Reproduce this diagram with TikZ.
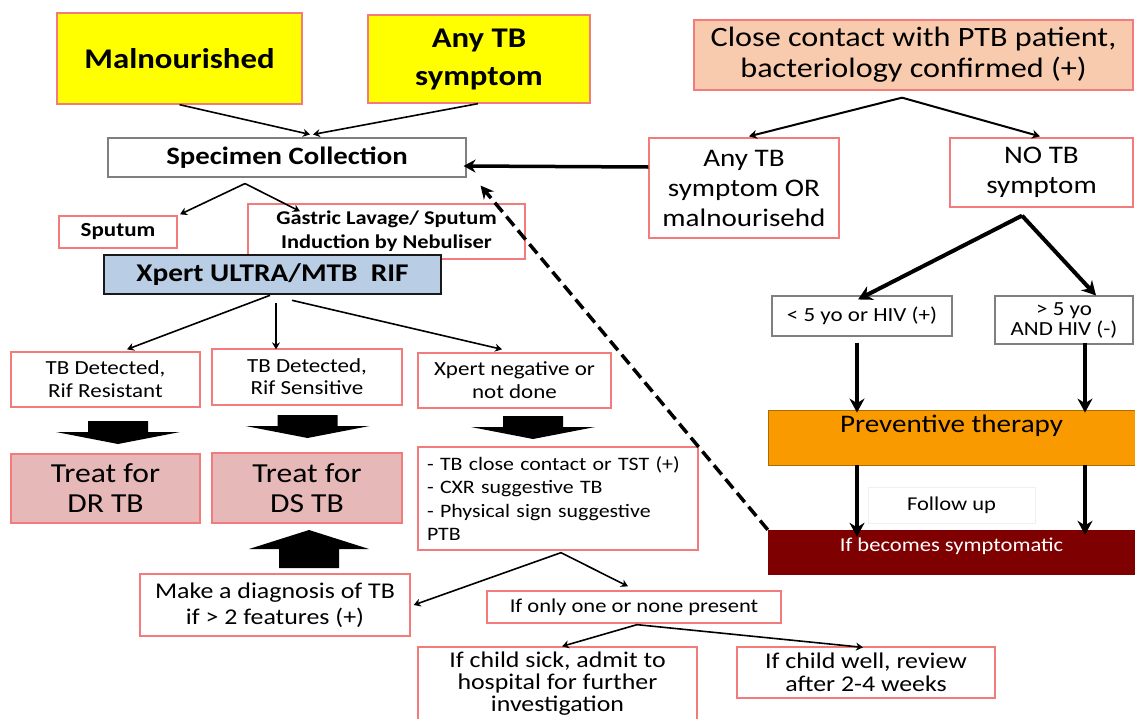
\documentclass[tikz,border=0pt]{standalone}
\usepackage{fontspec}
\setmainfont{Carlito}[FakeStretch=1.15]
\usetikzlibrary{arrows.meta,calc}
\definecolor{bred}{HTML}{F27C7C}
\definecolor{yel}{HTML}{FFFF00}
\definecolor{peach}{HTML}{F9CBAE}
\definecolor{xblue}{HTML}{B9CDE5}
\definecolor{pinkf}{HTML}{E6B8B7}
\definecolor{orangef}{HTML}{F99B00}
\definecolor{darkredf}{HTML}{7F0000}
\definecolor{graybd}{HTML}{7F7F7F}
\begin{document}
\begin{tikzpicture}[x=1pt,y=-1pt,
  box/.style={draw=bred,line width=1.3pt,inner sep=0pt,align=center,text=black},
  gbox/.style={draw=graybd,line width=1.1pt,inner sep=0pt,align=center,text=black},
  thin/.style={line width=1.6pt,-{Stealth[length=7pt,width=8pt]}},
  mid/.style={line width=2pt,-{Stealth[length=8pt,width=9pt]}},
  thick/.style={line width=3.5pt,-{Stealth[length=12pt,width=13pt]}},
  vthick/.style={line width=4.5pt,-{Stealth[length=14pt,width=15pt]}},
  blkdown/.pic={\fill[black] (-30,0) -- (30,0) -- (30,11) -- (62,11) -- (0,23) -- (-62,11) -- (-30,11) -- cycle;},
  blkup/.pic={\fill[black] (-30,0) -- (30,0) -- (30,-19) -- (60,-19) -- (0,-38) -- (-60,-19) -- (-30,-19) -- cycle;}
]
\useasboundingbox (0,0) rectangle (1135,718);
\fill[white] (0,0) rectangle (1135,718);

% top left
\node[box,fill=yel,minimum width=245,minimum height=91,font=\bfseries\fontsize{28.5}{38}\selectfont] (mal) at (179.5,58.5) {Malnourished};
\node[box,fill=yel,minimum width=222,minimum height=88,font=\bfseries\fontsize{28.5}{38}\selectfont] (anytb) at (479,59) {Any TB\\symptom};
\node[gbox,minimum width=358,minimum height=39,font=\bfseries\fontsize{25}{28}\selectfont] (spec) at (287,157.5) {Specimen Collection};
\node[box,minimum width=118,minimum height=32,font=\bfseries\fontsize{20}{24}\selectfont] (sput) at (118,232) {Sputum};
\node[box,minimum width=277,minimum height=55,font=\bfseries\fontsize{19.5}{24}\selectfont] (gast) at (386.5,231.5) {Gastric Lavage/ Sputum\\Induction by Nebuliser};
\node[draw=black!90,line width=2.6pt,fill=xblue,inner sep=0pt,minimum width=337,minimum height=39,font=\bfseries\fontsize{25.5}{28}\selectfont] (xpert) at (272.5,274.5) {Xpert ULTRA/MTB\ \ RIF};

% right side
\node[box,fill=peach,minimum width=439,minimum height=70,font=\fontsize{28}{31}\selectfont] (close) at (913.5,55) {Close contact with PTB patient,\\bacteriology confirmed (+)};
\node[box,minimum width=190,minimum height=100,font=\fontsize{25.3}{30}\selectfont] (anyor) at (744,188) {Any TB\\symptom OR\\malnourisehd};
\node[box,minimum width=183,minimum height=69,font=\fontsize{25.3}{30}\selectfont] (notb) at (1041.5,172.5) {NO TB\\symptom};
\node[gbox,minimum width=180,minimum height=40,font=\fontsize{20}{23}\selectfont] (lt5) at (862,316) {< 5 yo or HIV (+)};
\node[gbox,minimum width=138,minimum height=48,font=\fontsize{20}{20}\selectfont] (gt5) at (1064,320) {> 5 yo\\AND HIV (-)};
\node[draw=orangef!70!black,line width=0.8pt,fill=orangef,inner sep=0pt,minimum width=367,minimum height=55,
  label={[font=\fontsize{25.3}{28}\selectfont,yshift=12pt]center:Preventive therapy}] (prev) at (951.5,437.5) {};
\node[draw=black!6,line width=0.8pt,inner sep=0pt,minimum width=167,minimum height=36,font=\fontsize{19.6}{22}\selectfont] (follow) at (951.5,505) {Follow up};
\node[fill=darkredf,inner sep=0pt,minimum width=367,minimum height=45,
  label={[text=white,font=\fontsize{19.6}{22}\selectfont,yshift=6pt]center:If becomes symptomatic}] (symp) at (951.5,552.5) {};

% Xpert results
\node[box,minimum width=189,minimum height=55,font=\fontsize{20}{23}\selectfont] (rifres) at (105.5,379.5) {TB Detected,\\Rif Resistant};
\node[box,minimum width=190,minimum height=56,font=\fontsize{20}{22}\selectfont] (rifsen) at (307,377) {TB Detected,\\Rif Sensitive};
\node[box,minimum width=193,minimum height=55,font=\fontsize{20}{23}\selectfont] (xneg) at (514.5,380.5) {Xpert negative or\\not done};
\node[box,fill=pinkf,minimum width=189,minimum height=69,font=\fontsize{27.5}{30}\selectfont] (trdr) at (105.5,488.5) {Treat for\\DR TB};
\node[box,fill=pinkf,minimum width=190,minimum height=70,font=\fontsize{27.5}{30}\selectfont] (trds) at (307,488) {Treat for\\DS TB};
\node[box,minimum width=280,minimum height=103,text width=262pt,inner xsep=9pt,align=left,font=\fontsize{19}{23.3}\selectfont] (crit) at (558,498.5)
  {- TB close contact or TST (+)\\- CXR suggestive TB\\- Physical sign suggestive\\PTB};
\node[box,minimum width=270,minimum height=62,font=\fontsize{22.5}{26}\selectfont] (diag) at (275,605) {Make a diagnosis of TB\\if > 2 features (+)};
\node[box,minimum width=294,minimum height=32,font=\fontsize{19.6}{22}\selectfont] (only) at (634,607) {If only one or none present};
\node[box,minimum width=279,minimum height=74,font=\fontsize{22.5}{22}\selectfont] (sick) at (557.5,684) {If child sick, admit to\\hospital for further\\investigation};
\node[box,minimum width=258,minimum height=51,font=\fontsize{22.5}{23}\selectfont] (well) at (866,672.5) {If child well, review\\after 2-4 weeks};

% block arrows
\pic at (118,421) {blkdown};
\pic at (307.5,415) {blkdown};
\pic at (533,416) {blkdown};
\pic at (309,568) {blkup};

% connectors
\draw[thin] (mal.south) -- ([xshift=23pt,yshift=3pt]spec.north);
\draw[thin] ([xshift=-1pt]anytb.south) -- ([xshift=26pt,yshift=3pt]spec.north);
\draw[mid] ([xshift=-11.5pt,yshift=-7pt]close.south) -- ([xshift=5pt,yshift=1pt]anyor.north);
\draw[mid] ([xshift=-11.5pt,yshift=-7pt]close.south) -- ([xshift=-1.5pt,yshift=1pt]notb.north);
\draw[thick] ([yshift=21pt]anyor.west) -- ([xshift=-3pt,yshift=-8.5pt]spec.east);
\draw[line width=3.5pt,dash pattern=on 12pt off 6pt,-{Stealth[length=13pt,width=13pt]}] (symp.north west) -- ([xshift=14pt,yshift=-8pt]spec.south east);
\draw[vthick,line width=4pt] ([xshift=-19.5pt,yshift=-8pt]notb.south) -- ([xshift=-4pt,yshift=-4pt]lt5.north);
\draw[vthick,line width=4pt] ([xshift=-19.5pt,yshift=-8pt]notb.south) -- ([xshift=32pt,yshift=0pt]gt5.north);
\draw[vthick] ([xshift=-5pt,yshift=-6pt]lt5.south) -- ([xshift=-94.5pt,yshift=-3pt]prev.north);
\draw[vthick] ([xshift=21pt,yshift=2pt]gt5.south) -- ([xshift=133.5pt,yshift=-3pt]prev.north);
\draw[vthick] ([xshift=-94.5pt]prev.south) -- ([xshift=-94.5pt,yshift=-7pt]symp.north);
\draw[vthick] ([xshift=133.5pt]prev.south) -- ([xshift=133.5pt,yshift=-5pt]symp.north);
\draw[thin] ([xshift=-42pt,yshift=-6pt]spec.south) -- ([xshift=62pt,yshift=1pt]sput.north);
\draw[thin] ([xshift=-42pt,yshift=-6pt]spec.south) -- ([xshift=-86.5pt,yshift=-8pt]gast.north);
\draw[thin] ([xshift=-2.5pt]xpert.south) -- ([xshift=21.5pt,yshift=2pt]rifres.north);
\draw[thin] ([xshift=3.5pt,yshift=-8pt]xpert.south) -- ([xshift=-31pt,yshift=-1pt]rifsen.north);
\draw[thin] ([xshift=19.5pt,yshift=-5pt]xpert.south) -- ([xshift=-12.5pt,yshift=3pt]xneg.north);
\draw[thin] ([xshift=3pt,yshift=-2pt]crit.south) -- ([xshift=3pt]diag.east);
\draw[thin] ([xshift=3pt,yshift=-2pt]crit.south) -- ([xshift=-6pt,yshift=4pt]only.north);
\draw[thin] ([xshift=3pt,yshift=-1pt]only.south) -- ([xshift=4.5pt]sick.north);
\draw[thin] ([xshift=3pt,yshift=-1pt]only.south) -- ([xshift=-3pt,yshift=-1pt]well.north);
\end{tikzpicture}
\end{document}
